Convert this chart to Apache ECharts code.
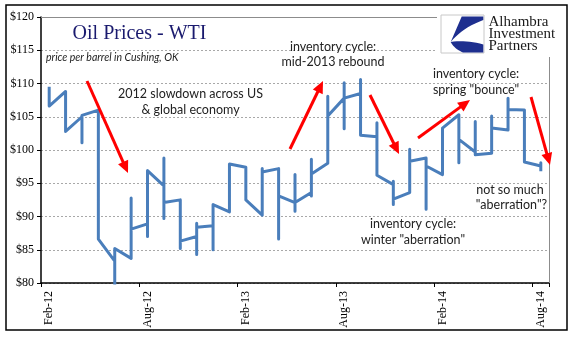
<!DOCTYPE html>
<html><head><meta charset="utf-8">
<script src="https://cdn.jsdelivr.net/npm/echarts@6/dist/echarts.min.js"></script>
<style>html,body{margin:0;padding:0;background:#fff}#c{width:577px;height:341px}</style>
</head><body><div id="c"></div>
<script>
// Month categories (Feb-12 .. Aug-14)
const months = ['Feb-12','Mar-12','Apr-12','May-12','Jun-12','Jul-12','Aug-12','Sep-12','Oct-12','Nov-12','Dec-12',
  'Jan-13','Feb-13','Mar-13','Apr-13','May-13','Jun-13','Jul-13','Aug-13','Sep-13','Oct-13','Nov-13','Dec-13',
  'Jan-14','Feb-14','Mar-14','Apr-14','May-14','Jun-14','Jul-14','Aug-14'];
// Weekly prices within each month, in traversal order (all plotted at that month's position)
const weeklyByMonth = [
  [109.5, 106.6],
  [108.8, 102.8],
  [105.0, 101.1, 105.2],
  [106.0, 86.6],
  [83.3, 78.5, 85.2],
  [83.7, 92.8, 88.1],
  [88.9, 87.0, 96.9],
  [94.6, 98.8, 89.7, 92.1],
  [92.5, 85.2, 86.3],
  [87.0, 84.3, 89.0, 88.4],
  [88.6, 85.0, 91.8],
  [90.7, 97.9],
  [97.4, 92.5],
  [90.2, 97.2, 96.7],
  [97.2, 86.6, 93.1],
  [92.1, 90.8, 96.3, 92.1],
  [93.6, 93.1, 98.6, 96.4],
  [98.0, 108.1, 105.1],
  [107.8, 110.1, 103.2, 107.8],
  [108.5, 110.6, 102.2],
  [102.0, 104.1, 96.2],
  [94.8, 95.3, 91.8, 92.6],
  [93.6, 100.1, 98.3],
  [98.8, 99.1, 91.1, 97.6],
  [96.3, 103.3],
  [105.3, 98.1, 101.6],
  [99.7, 104.3, 99.3, 99.6],
  [99.5, 105.1, 103.3],
  [103.0, 107.8, 106.1],
  [106.0, 98.2],
  [97.6, 98.1, 96.8]
];
const yMin = 80, yMax = 120, yStep = 5;

const seriesData = [];
weeklyByMonth.forEach((vals, i) => vals.forEach(v => seriesData.push([i, v])));

function arrow(x1, y1, x2, y2) {
  const dx = x2 - x1, dy = y2 - y1, L = Math.hypot(dx, dy);
  const ux = dx / L, uy = dy / L, hl = 12, hw = 5.5;
  const bx = x2 - ux * hl, by = y2 - uy * hl;
  return [
    {type: 'polyline', z: 50, shape: {points: [[x1, y1], [bx + ux * 2, by + uy * 2]]},
     style: {stroke: '#FF0000', lineWidth: 3, fill: null}},
    {type: 'polygon', z: 50, shape: {points: [[x2, y2], [bx - uy * hw, by + ux * hw], [bx + uy * hw, by - ux * hw]]},
     style: {fill: '#FF0000'}}
  ];
}
function txt(x, y, text, font, fill) {
  return {type: 'text', z: 40, x: x, y: y, style: {text: text, font: font, fill: fill || '#222', align: 'center', verticalAlign: 'middle'}};
}
// quadratic curve sampler for logo shapes
function quad(p0, c, p1, n) {
  const pts = [];
  for (let k = 0; k <= n; k++) {
    const t = k / n, a = (1 - t) * (1 - t), b = 2 * (1 - t) * t, d = t * t;
    pts.push([a * p0[0] + b * c[0] + d * p1[0], a * p0[1] + b * c[1] + d * p1[1]]);
  }
  return pts;
}
const logoA = [[461.7, 16.5], [483.3, 16.5], ...quad([483.3, 20], [462, 28], [450.7, 42], 10)];
const logoB = [...quad([450.7, 42], [466, 39.5], [483.3, 44.5], 10), [483.3, 52.5], ...quad([463, 52.5], [454, 48.5], [450.7, 42], 10)];
const annFont = '12.5px Lato';

const chart = echarts.init(document.getElementById('c'), null, {renderer: 'canvas'});
chart.setOption({
  animation: false,
  backgroundColor: '#fff',
  grid: {left: 41, right: 28, top: 17, bottom: 58, containLabel: false},
  xAxis: {
    type: 'category', data: months, boundaryGap: true,
    axisLine: {lineStyle: {color: '#000', width: 1.5}},
    axisTick: {show: true, interval: 5, length: 4, lineStyle: {color: '#000', width: 1}},
    axisLabel: {interval: 5, rotate: 90, margin: 8, color: '#000', fontFamily: 'Liberation Serif', fontSize: 12},
    splitLine: {show: false}
  },
  yAxis: {
    type: 'value', min: yMin, max: yMax, interval: yStep,
    axisLine: {show: true, lineStyle: {color: '#000', width: 1.5}},
    axisTick: {show: true, length: 4, lineStyle: {color: '#000'}},
    axisLabel: {margin: 7, color: '#000', fontFamily: 'Liberation Serif', fontSize: 12, formatter: v => '$' + v},
    splitLine: {lineStyle: {color: '#A8A8A8', type: [2, 2], width: 1}}
  },
  series: [{
    type: 'line', data: seriesData, showSymbol: false, symbol: 'none', silent: true,
    lineStyle: {color: '#4A7EBB', width: 3, join: 'round'}
  }],
  graphic: {elements: [
    {type: 'rect', z: 30, shape: {x: 437, y: 6, width: 129, height: 50}, style: {fill: '#fff'}},
    {type: 'line', z: 31, shape: {x1: 41, y1: 17.5, x2: 437, y2: 17.5}, style: {stroke: '#8C8C8C', lineWidth: 1}},
    {type: 'line', z: 31, shape: {x1: 549.5, y1: 57, x2: 549.5, y2: 283}, style: {stroke: '#8C8C8C', lineWidth: 1}},
    {type: 'rect', z: 60, shape: {x: 6, y: 5, width: 561, height: 325}, style: {fill: null, stroke: '#000', lineWidth: 1.5}},
    {type: 'rect', z: 41, shape: {x: 441, y: 15, width: 43, height: 38}, style: {fill: '#fff', stroke: '#C8C8C8', lineWidth: 1}},
    {type: 'polygon', z: 42, shape: {points: logoA}, style: {fill: '#1E2F8F'}},
    {type: 'polygon', z: 42, shape: {points: logoB}, style: {fill: '#1E2F8F'}},
    {type: 'text', z: 42, x: 488.5, y: 22, style: {text: 'Alhambra', font: '15px "Liberation Serif"', fill: '#1a1a1a', verticalAlign: 'middle'}},
    {type: 'text', z: 42, x: 488.5, y: 34, style: {text: 'Investment', font: '15px "Liberation Serif"', fill: '#1a1a1a', verticalAlign: 'middle'}},
    {type: 'text', z: 42, x: 488.5, y: 46, style: {text: 'Partners', font: '15px "Liberation Serif"', fill: '#1a1a1a', verticalAlign: 'middle'}},
    txt(139.5, 34, 'Oil Prices - WTI', '20px "Liberation Serif"', '#1A1A6E'),
    {type: 'text', z: 40, x: 46, y: 58, style: {text: 'price per barrel in Cushing, OK', font: 'italic 10.5px Lato', fill: '#222', verticalAlign: 'middle'}},
    txt(190.5, 94, '2012 slowdown across US', annFont),
    txt(190.5, 110, '& global economy', annFont),
    txt(333, 46.5, 'inventory cycle:', annFont),
    txt(333, 62, 'mid-2013 rebound', annFont),
    txt(476, 74, 'inventory cycle:', annFont),
    txt(476, 90, 'spring "bounce"', annFont),
    txt(413, 223.5, 'inventory cycle:', annFont),
    txt(413, 240, 'winter "aberration"', annFont),
    txt(510, 189.5, 'not so much', annFont),
    txt(511.5, 204.5, '"aberration"?', annFont),
    ...arrow(87, 81, 128, 173),
    ...arrow(290, 149, 323, 81),
    ...arrow(370, 95, 399, 154),
    ...arrow(418, 138, 470, 100),
    ...arrow(531, 97, 550, 165)
  ]}
});
</script></body></html>
